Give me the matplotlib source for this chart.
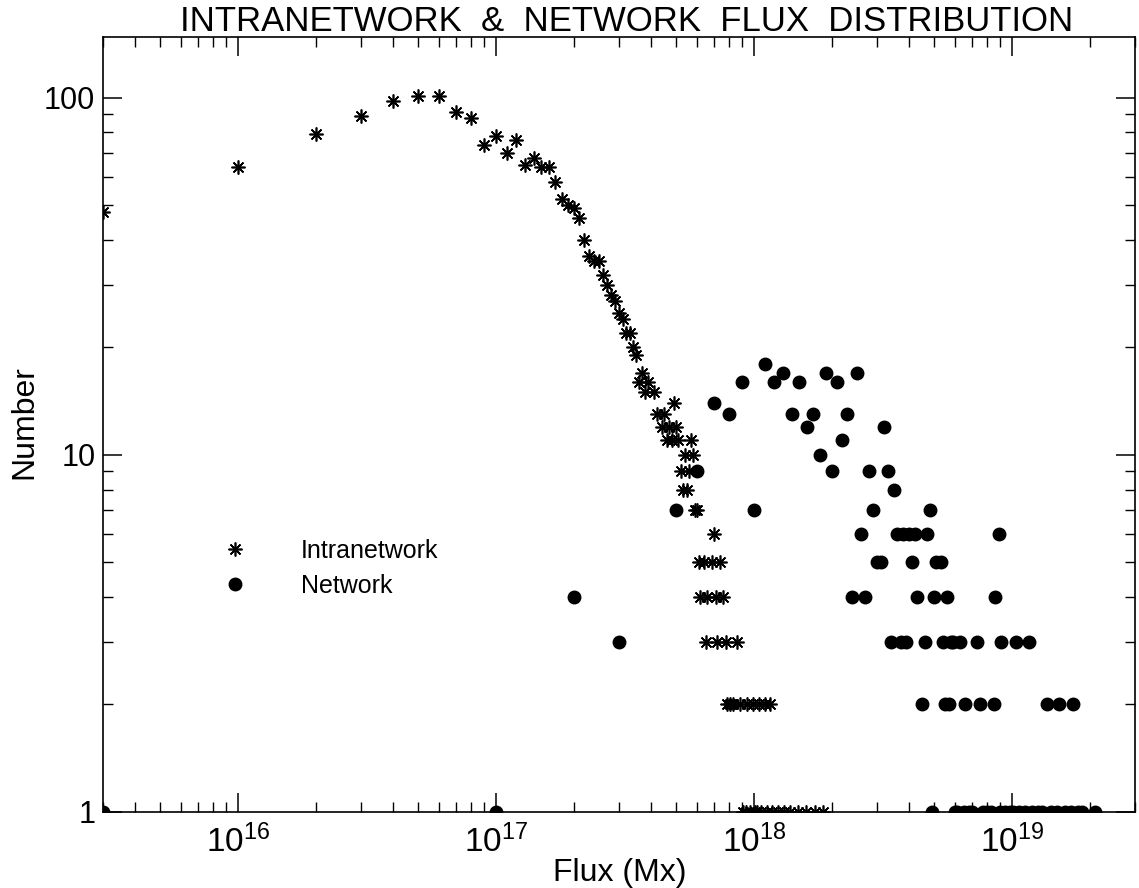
import matplotlib
matplotlib.use('Agg')
import matplotlib.pyplot as plt
from matplotlib.ticker import LogLocator, FixedLocator, FixedFormatter, NullFormatter
import numpy as np

plt.rcParams['font.family'] = ['Liberation Sans', 'DejaVu Sans']

# intranetwork histogram, flux in units of 1e16 Mx
intra_flux = [0.3, 1, 2, 3, 4, 5, 6, 7, 8, 9,
              10, 11, 12, 13, 14, 15, 16, 17, 18, 19,
              20, 21, 22, 23, 24, 25, 26, 27, 28, 29,
              30, 31, 32, 33, 34, 35, 36, 37, 38, 39,
              41, 42, 44, 45, 46, 47, 48, 49, 50, 51,
              52, 53, 54, 55, 56, 57, 58, 59, 60, 61,
              62, 64, 65, 66, 69, 70, 71, 72, 74, 76,
              78, 79, 81, 83, 86, 88, 91, 93, 94, 97,
              99, 101, 103, 105, 107, 110, 112, 115, 118, 124,
              131, 138, 148, 159, 172, 185]
intra_count = [48, 64, 79, 89, 98, 101, 101, 91, 88, 74,
               78, 70, 76, 65, 68, 64, 64, 58, 52, 50,
               49, 46, 40, 36, 35, 35, 32, 30, 28, 27,
               25, 24, 22, 22, 20, 19, 16, 17, 15, 16,
               15, 13, 12, 13, 11, 12, 11, 14, 12, 11,
               9, 8, 10, 8, 9, 11, 10, 7, 7, 5,
               4, 5, 3, 4, 5, 6, 4, 3, 5, 4,
               3, 2, 2, 2, 3, 2, 1, 1, 2, 1,
               2, 1, 1, 2, 1, 2, 1, 2, 1, 1,
               1, 1, 1, 1, 1, 1]

# network histogram, flux in units of 1e18 Mx
net_flux = [0.003, 0.1, 0.2, 0.3, 0.5, 0.6, 0.7, 0.8, 0.9, 1.0,
            1.1, 1.2, 1.3, 1.4, 1.5, 1.6, 1.7, 1.8, 1.9, 2.0,
            2.1, 2.2, 2.3, 2.4, 2.5, 2.6, 2.7, 2.8, 2.9, 3.0,
            3.1, 3.2, 3.3, 3.4, 3.5, 3.6, 3.7, 3.8, 3.9, 4.0,
            4.1, 4.2, 4.3, 4.5, 4.6, 4.7, 4.8, 4.9, 5.0, 5.1,
            5.3, 5.4, 5.5, 5.6, 5.7, 5.8, 5.9, 6.0, 6.1, 6.3,
            6.5, 6.6, 6.8, 7.0, 7.3, 7.5, 7.7, 8.0, 8.3, 8.5,
            8.6, 8.9, 9.0, 9.1, 9.4, 9.8, 10.1, 10.4, 10.7, 11.2,
            11.6, 12.0, 12.6, 13.1, 13.7, 14.2, 15.0, 15.2, 16.0, 17.0,
            17.3, 18.0, 18.7, 21.0]
net_count = [1, 1, 4, 3, 7, 9, 14, 13, 16, 7,
             18, 16, 17, 13, 16, 12, 13, 10, 17, 9,
             16, 11, 13, 4, 17, 6, 4, 9, 7, 5,
             5, 12, 9, 3, 8, 6, 3, 6, 3, 6,
             5, 6, 4, 2, 3, 6, 7, 1, 4, 5,
             5, 3, 2, 4, 2, 3, 3, 1, 1, 3,
             1, 2, 1, 1, 3, 2, 1, 1, 1, 2,
             4, 6, 1, 3, 1, 1, 1, 3, 1, 1,
             3, 1, 1, 1, 2, 1, 1, 2, 1, 1,
             2, 1, 1, 1]

# IDL draws the title with wide word gaps
title = 'INTRANETWORK  &  NETWORK  FLUX  DISTRIBUTION'
y_ticks = [1, 10, 100]
y_labels = ['1', '10', '100']

fig = plt.figure(figsize=(11.39, 8.88), dpi=100)
ax = fig.add_axes([0.0904, 0.0856, 0.9061, 0.8727])

xi = np.array(intra_flux) * 1e16
xn = np.array(net_flux) * 1e18

# asterisk (IDL psym=2 style) + small centre dot
ax.plot(xi, intra_count, ls='none', marker=(8, 2, 0), ms=10, mew=1.2,
        color='k', label='Intranetwork')
ax.plot(xi, intra_count, ls='none', marker='o', ms=3, color='k')
ax.plot(xn, net_count, ls='none', marker='o', ms=9, color='k',
        label='Network')

ax.set_xscale('log')
ax.set_yscale('log')
ax.set_xlim(3e15, 3e19)
ax.set_ylim(1, 148)

ax.yaxis.set_major_locator(FixedLocator(y_ticks))
ax.yaxis.set_major_formatter(FixedFormatter(y_labels))
ax.yaxis.set_minor_locator(LogLocator(base=10, subs=np.arange(2, 10)))
ax.yaxis.set_minor_formatter(NullFormatter())
ax.xaxis.set_minor_locator(LogLocator(base=10, subs=np.arange(2, 10), numticks=20))
ax.xaxis.set_minor_formatter(NullFormatter())

ax.tick_params(which='both', direction='in', top=True, right=True)
ax.tick_params(which='major', length=14, width=1.1, pad=6)
ax.tick_params(which='minor', length=7, width=1.0)
ax.tick_params(axis='y', which='major', labelsize=22, pad=5.5)
ax.tick_params(axis='x', which='major', labelsize=24, pad=9)
for s in ax.spines.values():
    s.set_linewidth(1.2)

ax.set_title(title, fontsize=25, pad=4, x=0.507, y=1.0)
ax.set_xlabel('Flux (Mx)', fontsize=23)
ax.xaxis.set_label_coords(0.501, -0.06)
ax.set_ylabel('Number', fontsize=23)
ax.yaxis.set_label_coords(-0.062, 0.503)

ax.legend(loc='upper left', bbox_to_anchor=(0.1177, 0.3525), frameon=False,
          fontsize=18, numpoints=1, handlelength=0.85, handletextpad=2.2,
          labelspacing=0.45, borderpad=0, borderaxespad=0)

fig.savefig('out.png', dpi=100)
